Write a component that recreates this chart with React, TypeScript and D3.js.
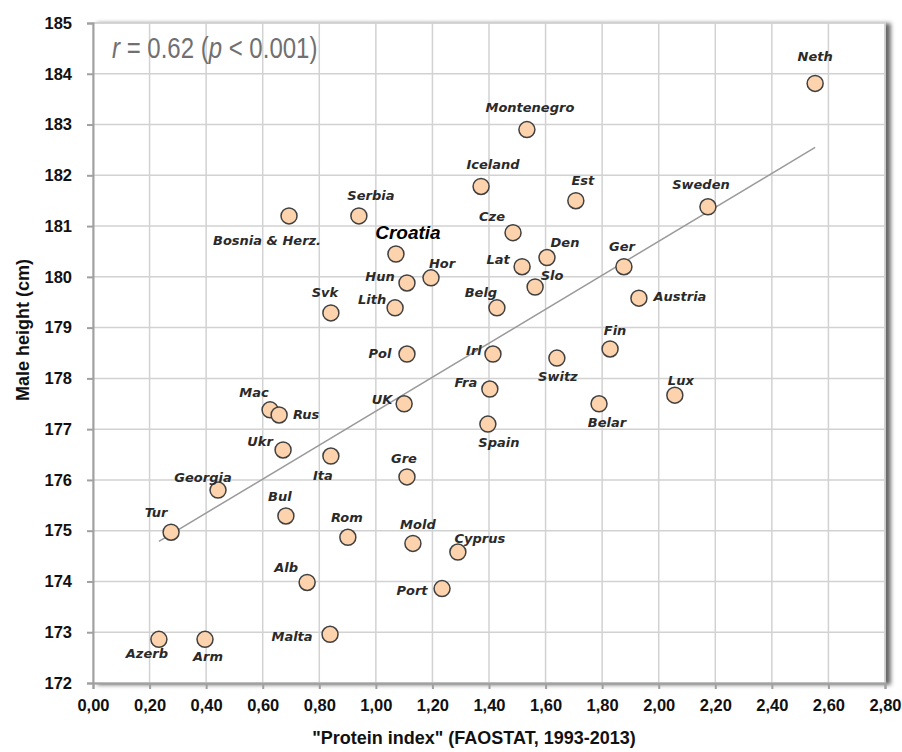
import React, { useEffect, useRef } from "react";
import * as d3 from "d3";

// country labels, protein index (x) and male height in cm (y)
const countries = [
  "Neth", "Montenegro", "Iceland", "Est", "Sweden", "Serbia", "Bosnia & Herz.",
  "Cze", "Croatia", "Den", "Lat", "Ger", "Hor", "Hun", "Slo", "Austria", "Lith",
  "Belg", "Svk", "Pol", "Irl", "Fin", "Switz", "Mac", "Rus", "UK", "Fra", "Belar",
  "Lux", "Spain", "Ukr", "Ita", "Gre", "Georgia", "Bul", "Tur", "Rom", "Mold",
  "Cyprus", "Alb", "Port", "Malta", "Azerb", "Arm",
];
const proteinIndex = [
  2.553, 1.534, 1.372, 1.707, 2.174, 0.94, 0.693,
  1.485, 1.071, 1.605, 1.517, 1.877, 1.195, 1.11, 1.563, 1.93, 1.068,
  1.428, 0.841, 1.11, 1.414, 1.828, 1.64, 0.626, 0.658, 1.1, 1.403, 1.789,
  2.057, 1.396, 0.672, 0.841, 1.11, 0.442, 0.682, 0.276, 0.901, 1.131,
  1.29, 0.757, 1.234, 0.838, 0.233, 0.396,
];
const maleHeight = [
  183.81, 182.9, 181.78, 181.5, 181.38, 181.2, 181.2,
  180.87, 180.45, 180.38, 180.2, 180.2, 179.98, 179.88, 179.8, 179.58, 179.39,
  179.39, 179.29, 178.48, 178.48, 178.58, 178.4, 177.38, 177.28, 177.5, 177.79, 177.5,
  177.67, 177.1, 176.59, 176.47, 176.06, 175.8, 175.29, 174.97, 174.87, 174.75,
  174.58, 173.98, 173.86, 172.96, 172.86, 172.86,
];

// regression line end points
const trendX = [0.233, 2.553];
const trendY = [174.79, 182.55];

const xTicks = [0, 0.2, 0.4, 0.6, 0.8, 1.0, 1.2, 1.4, 1.6, 1.8, 2.0, 2.2, 2.4, 2.6, 2.8];
const yTicks = [172, 173, 174, 175, 176, 177, 178, 179, 180, 181, 182, 183, 184, 185];

// label placement relative to each point (layout only)
const labelOffset: Record<string, [number, number]> = {
  "Neth": [0, -27], "Montenegro": [3, -22], "Iceland": [12, -22], "Est": [7, -20],
  "Sweden": [-7, -22], "Serbia": [12, -20], "Bosnia & Herz.": [-22, 25], "Cze": [-21, -16],
  "Croatia": [12, -22], "Den": [18, -15], "Lat": [-24, -7], "Ger": [-2, -20],
  "Hor": [11, -14], "Hun": [-27, -6], "Slo": [17, -12], "Austria": [41, -2],
  "Lith": [-23, -8], "Belg": [-16, -15], "Svk": [-6, -20], "Pol": [-27, -1],
  "Irl": [-19, -4], "Fin": [5, -18], "Switz": [1, 18], "Mac": [-16, -17],
  "Rus": [27, 0], "UK": [-22, -4], "Fra": [-24, -7], "Belar": [8, 19],
  "Lux": [6, -15], "Spain": [11, 18], "Ukr": [-23, -8], "Ita": [-8, 19],
  "Gre": [-3, -18], "Georgia": [-15, -13], "Bul": [-6, -19], "Tur": [-15, -20],
  "Rom": [-1, -20], "Mold": [5, -19], "Cyprus": [22, -14], "Alb": [-21, -15],
  "Port": [-30, 2], "Malta": [-38, 2], "Azerb": [-12, 14], "Arm": [3, 17],
};

const W = 902;
const H = 752;

const App: React.FC = () => {
  const svgRef = useRef<SVGSVGElement | null>(null);

  useEffect(() => {
    const svg = d3.select(svgRef.current);
    svg.selectAll("*").remove();

    const left = 93, right = 885, top = 23, bottom = 683;
    const x = d3.scaleLinear().domain([0, 2.8]).range([left, right]);
    const y = d3.scaleLinear().domain([172, 185]).range([bottom, top]);

    svg.append("rect").attr("width", W).attr("height", H).attr("fill", "#fff");

    const defs = svg.append("defs");
    const f = defs.append("filter").attr("id", "shadow")
      .attr("x", "-5%").attr("y", "-5%").attr("width", "115%").attr("height", "115%");
    f.append("feDropShadow").attr("dx", 5).attr("dy", 1).attr("stdDeviation", 2)
      .attr("flood-color", "#555").attr("flood-opacity", 0.9);

    // plot area with shadow
    svg.append("rect")
      .attr("x", left).attr("y", top)
      .attr("width", right - left).attr("height", bottom - top)
      .attr("fill", "#fff")
      .attr("stroke", "#cfcfcf")
      .attr("stroke-width", 1.5)
      .attr("filter", "url(#shadow)");

    // gridlines
    const grid = svg.append("g");
    grid.selectAll(".gx").data(xTicks.slice(1)).enter().append("line")
      .attr("x1", (d) => x(d)).attr("x2", (d) => x(d))
      .attr("y1", top).attr("y2", bottom)
      .attr("stroke", "#d2d2d2").attr("stroke-width", 1.5);
    grid.selectAll(".gy").data(yTicks.slice(1)).enter().append("line")
      .attr("x1", left).attr("x2", right)
      .attr("y1", (d) => y(d)).attr("y2", (d) => y(d))
      .attr("stroke", "#d2d2d2").attr("stroke-width", 1.5);

    // axes
    const fmt = (d: d3.NumberValue) => d3.format(".2f")(+d).replace(".", ",");
    const xAxis = svg.append("g")
      .attr("transform", `translate(0,${bottom})`)
      .call(d3.axisBottom(x).tickValues(xTicks).tickFormat(fmt).tickSize(6).tickPadding(14));
    const yAxis = svg.append("g")
      .attr("transform", `translate(${left},0)`)
      .call(d3.axisLeft(y).tickValues(yTicks).tickFormat(d3.format("d")).tickSize(6).tickPadding(15));

    [xAxis, yAxis].forEach((a) => {
      a.select(".domain").attr("stroke", "#a0a0a0").attr("stroke-width", 2);
      a.selectAll(".tick line").attr("stroke", "#a0a0a0").attr("stroke-width", 2);
      a.selectAll(".tick text")
        .attr("fill", "#111")
        .attr("font-family", "Liberation Sans, Arial, sans-serif")
        .attr("font-weight", "bold")
        .attr("font-size", 16.5);
    });
    xAxis.selectAll(".tick text").attr("dy", "0.5em");

    // trend line
    svg.append("line")
      .attr("x1", x(trendX[0])).attr("y1", y(trendY[0]))
      .attr("x2", x(trendX[1])).attr("y2", y(trendY[1]))
      .attr("stroke", "#9a9a9a").attr("stroke-width", 1.5);

    // points
    const pts = countries.map((c, i) => ({ name: c, px: proteinIndex[i], h: maleHeight[i] }));
    svg.append("g").selectAll("circle").data(pts).enter().append("circle")
      .attr("cx", (d) => x(d.px)).attr("cy", (d) => y(d.h)).attr("r", 8)
      .attr("fill", "#fcd3ac").attr("stroke", "#404040").attr("stroke-width", 1.5);

    // labels
    svg.append("g").selectAll("text").data(pts).enter().append("text")
      .attr("x", (d) => x(d.px) + (labelOffset[d.name] || [0, -18])[0])
      .attr("y", (d) => y(d.h) + (labelOffset[d.name] || [0, -18])[1])
      .attr("text-anchor", "middle")
      .attr("dominant-baseline", "central")
      .attr("font-family", (d) => d.name === "Croatia" ? "Liberation Sans, Arial, sans-serif" : "DejaVu Sans, sans-serif")
      .attr("font-style", "italic")
      .attr("font-weight", "bold")
      .attr("font-size", (d) => d.name === "Croatia" ? 19 : 13)
      .attr("fill", (d) => d.name === "Croatia" ? "#000" : "#2a2a2a")
      .text((d) => d.name);

    // correlation note
    const note = svg.append("text")
      .attr("transform", "translate(112,58) scale(0.8,1)")
      .attr("font-family", "Liberation Sans, Arial, sans-serif")
      .attr("font-size", 30)
      .attr("fill", "#707070");
    note.append("tspan").attr("font-style", "italic").text("r");
    note.append("tspan").text(" = 0.62 (");
    note.append("tspan").attr("font-style", "italic").text("p");
    note.append("tspan").text(" < 0.001)");

    // axis titles
    svg.append("text")
      .attr("x", (left + right) / 2 - 15).attr("y", 744)
      .attr("text-anchor", "middle")
      .attr("font-family", "Liberation Sans, Arial, sans-serif")
      .attr("font-weight", "bold").attr("font-size", 18).attr("fill", "#111")
      .text("\"Protein index\" (FAOSTAT, 1993-2013)");
    svg.append("text")
      .attr("transform", `translate(29,330) rotate(-90)`)
      .attr("text-anchor", "middle")
      .attr("font-family", "Liberation Sans, Arial, sans-serif")
      .attr("font-weight", "bold").attr("font-size", 18).attr("fill", "#111")
      .text("Male height (cm)");
  }, []);

  return (
    <svg
      ref={svgRef}
      width={W}
      height={H}
      style={{ position: "absolute", left: 0, top: 0 }}
    />
  );
};

export default App;
